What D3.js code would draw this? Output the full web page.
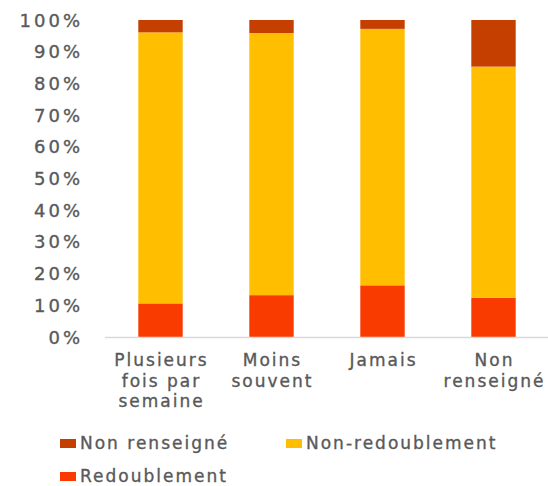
<!DOCTYPE html>
<html><head><meta charset="utf-8">
<script src="https://cdn.jsdelivr.net/npm/d3@7"></script>
<style>body{margin:0;background:#fff}</style>
</head><body><svg id="c" width="548" height="486"></svg>
<script>
const categories = [["Plusieurs","fois par","semaine"],["Moins","souvent"],["Jamais"],["Non","renseigné"]];
const redoublement = [10.6, 13.2, 16.3, 12.4];
const nonRedoublement = [85.5, 82.7, 80.9, 72.9];
const nonRenseigne = [3.9, 4.1, 2.8, 14.7];
const yTicks = [0,10,20,30,40,50,60,70,80,90,100];
const seriesNames = ["Redoublement","Non-redoublement","Non renseigné"];
const colors = ["#fa3b00","#ffbe00","#c43f00"];

const svg = d3.select("#c");
const font = "DejaVu Sans, Verdana, sans-serif";
const x = d3.scaleBand().domain(d3.range(categories.length)).range([105,549]).paddingInner(0.6).paddingOuter(0.3);
const y = d3.scaleLinear().domain([0,100]).range([337,20]);

const rows = categories.map((c,i)=>({i, r:redoublement[i], n:nonRedoublement[i], s:nonRenseigne[i]}));
const stack = d3.stack().keys(["r","n","s"])(rows);

svg.append("g").selectAll("g").data(stack).join("g")
  .attr("fill",(d,k)=>colors[k])
  .selectAll("rect").data(d=>d).join("rect")
  .attr("x",d=>x(d.data.i)).attr("width",x.bandwidth())
  .attr("y",d=>y(d[1])).attr("height",d=>y(d[0])-y(d[1]));

svg.append("line").attr("x1",105).attr("x2",548).attr("y1",y(0)+0.5).attr("y2",y(0)+0.5)
  .attr("stroke","#d9d9d9").attr("stroke-width",1.5);

const txtStyle = sel => sel.attr("font-family",font).attr("fill","#595959")
  .attr("stroke","#595959").attr("stroke-width",0.35);

// y axis labels
txtStyle(svg.append("g").selectAll("text").data(yTicks).join("text")
  .attr("x",83).attr("y",d=>y(d)+6.5).attr("text-anchor","end")
  .attr("font-size",18).attr("letter-spacing",3)).text(d=>d+"%");

// x labels
const xl = txtStyle(svg.append("g").selectAll("text").data(categories).join("text")
  .attr("text-anchor","middle").attr("font-size",17).attr("letter-spacing",2));
xl.each(function(lines,i){
  const t = d3.select(this);
  lines.forEach((l,j)=>{
    t.append("tspan").attr("x",x(i)+x.bandwidth()/2+1).attr("y",366+j*20.5).text(l);
  });
});

// legend
const legend = [
  {name:"Non renseigné", c:colors[2], x:60, y:449},
  {name:"Non-redoublement", c:colors[1], x:286, y:449},
  {name:"Redoublement", c:colors[0], x:60, y:482}
];
const lg = svg.append("g").selectAll("g").data(legend).join("g");
lg.append("rect").attr("x",d=>d.x).attr("y",d=>d.y-10).attr("width",16).attr("height",9).attr("fill",d=>d.c);
txtStyle(lg.append("text").attr("x",d=>d.x+20).attr("y",d=>d.y)
  .attr("font-size",17).attr("letter-spacing",2)).text(d=>d.name);
</script></body></html>
